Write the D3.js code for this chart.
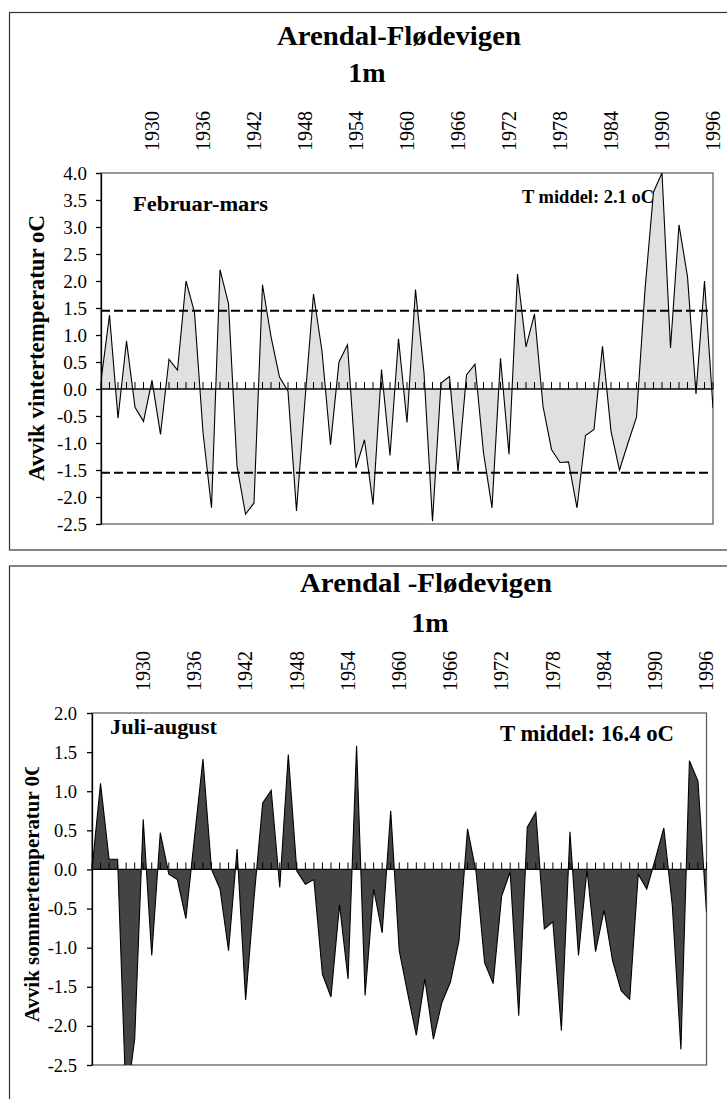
<!DOCTYPE html>
<html><head><meta charset="utf-8">
<script src="https://cdn.jsdelivr.net/npm/d3@7"></script>
<style>
body{margin:0;background:#fff}
svg{display:block}
text{font-family:'Liberation Serif','Times New Roman',serif;fill:#000}
</style>
</head><body>
<svg id="c" width="727" height="1099"></svg>
<script>
// ---------- DATA ----------
const years = [1924,1925,1926,1927,1928,1929,1930,1931,1932,1933,1934,1935,1936,1937,1938,1939,1940,1941,1942,1943,1944,1945,1946,1947,1948,1949,1950,1951,1952,1953,1954,1955,1956,1957,1958,1959,1960,1961,1962,1963,1964,1965,1966,1967,1968,1969,1970,1971,1972,1973,1974,1975,1976,1977,1978,1979,1980,1981,1982,1983,1984,1985,1986,1987,1988,1989,1990,1991,1992,1993,1994,1995,1996];
const yearTickLabels = ["1930","1936","1942","1948","1954","1960","1966","1972","1978","1984","1990","1996"];

// Avvik vintertemperatur (februar-mars)
const winterDev = [0.15,1.37,-0.54,0.89,-0.34,-0.60,0.16,-0.84,0.55,0.35,2.00,1.42,-0.80,-2.20,2.21,1.58,-1.43,-2.32,-2.11,1.93,0.97,0.22,-0.04,-2.26,-0.20,1.76,0.70,-1.03,0.50,0.82,-1.46,-0.94,-2.14,0.36,-1.23,0.93,-0.62,1.84,0.30,-2.45,0.11,0.23,-1.52,0.26,0.46,-1.18,-2.20,0.57,-1.21,2.13,0.78,1.39,-0.32,-1.12,-1.36,-1.35,-2.20,-0.86,-0.75,0.79,-0.78,-1.50,-1.00,-0.52,1.84,3.65,4.00,0.76,3.04,2.08,-0.09,2.00,-0.35];
const winterYTicks = [4.0,3.5,3.0,2.5,2.0,1.5,1.0,0.5,0.0,-0.5,-1.0,-1.5,-2.0,-2.5];
const winterLimits = [1.45,-1.55];

// Avvik sommertemperatur (juli-august)
const summerDev = [0.00,1.10,0.13,0.13,-3.00,-2.17,0.64,-1.10,0.47,-0.06,-0.13,-0.63,0.40,1.41,0.00,-0.25,-1.04,0.26,-1.67,-0.35,0.85,1.01,-0.23,1.47,-0.02,-0.19,-0.13,-1.34,-1.63,-0.45,-1.40,1.58,-1.61,-0.25,-0.81,0.75,-1.04,-1.59,-2.12,-1.40,-2.17,-1.70,-1.44,-0.91,0.52,-0.03,-1.19,-1.46,-0.34,-0.03,-1.87,0.54,0.73,-0.76,-0.67,-2.06,0.48,-1.10,0.00,-1.05,-0.52,-1.17,-1.55,-1.66,-0.06,-0.25,0.13,0.53,-0.47,-2.30,1.39,1.13,-0.55];
const summerYTicks = [2.0,1.5,1.0,0.5,0.0,-0.5,-1.0,-1.5,-2.0,-2.5];

// ---------- DRAW ----------
const svg = d3.select('#c');
const defs = svg.append('defs');

function drawPanel(o){
  const g = svg.append('g');
  // outer chart frame
  g.append('rect').attr('x',9.5).attr('y',o.frameTop).attr('width',800).attr('height',o.frameH)
    .attr('fill','#fff').attr('stroke','#333').attr('stroke-width',1.2);

  const x = d3.scalePoint().domain(years).range([o.left,o.right]);
  const y = d3.scaleLinear().domain([o.min,o.max]).range([o.bottom,o.top]);

  // plot area
  g.append('rect').attr('x',o.left).attr('y',o.top).attr('width',o.right-o.left).attr('height',o.bottom-o.top)
    .attr('fill','#fff').attr('stroke','#555').attr('stroke-width',1.2);

  defs.append('clipPath').attr('id',o.id+'clip').append('rect')
    .attr('x',o.left).attr('y',o.top).attr('width',o.right-o.left).attr('height',o.bottom-o.top);

  const pts = years.map((yr,i)=>({yr, v:o.values[i]}));
  const area = d3.area().x(d=>x(d.yr)).y0(y(0)).y1(d=>y(d.v));
  const line = d3.line().x(d=>x(d.yr)).y(d=>y(d.v));
  const pg = g.append('g').attr('clip-path',`url(#${o.id}clip)`);
  pg.append('path').datum(pts).attr('d',area).attr('fill',o.fill).attr('stroke','none');
  pg.append('path').datum(pts).attr('d',line).attr('fill','none').attr('stroke','#000').attr('stroke-width',1.1).attr('stroke-linejoin','miter');

  // limit lines
  if(o.limits){
    g.selectAll('.lim').data(o.limits).join('line')
      .attr('x1',o.left).attr('x2',o.right-2).attr('y1',d=>y(d)).attr('y2',d=>y(d))
      .attr('stroke','#000').attr('stroke-width',2).attr('stroke-dasharray','9,4');
  }

  // category axis at zero
  g.append('line').attr('x1',o.left).attr('x2',o.right).attr('y1',y(0)).attr('y2',y(0))
    .attr('stroke','#000').attr('stroke-width',1.3);
  g.selectAll('.ct').data(years).join('line')
    .attr('x1',d=>x(d)).attr('x2',d=>x(d)).attr('y1',y(0)).attr('y2',y(0)-7)
    .attr('stroke','#000').attr('stroke-width',1);

  // value axis
  const ax = d3.axisLeft(y).tickValues(o.ticks).tickSize(5).tickSizeOuter(0).tickPadding(o.pad)
    .tickFormat(d=>d.toFixed(1));
  const ag = g.append('g').attr('transform',`translate(${o.left},0)`).call(ax);
  ag.attr('font-family',null).attr('font-size',null);
  ag.selectAll('path,line').attr('stroke','#000').attr('stroke-width',1.3);
  ag.selectAll('text').style('font-size',o.yFont+'px').attr('dy','0.33em');

  // year labels (top)
  g.selectAll('.yl').data(yearTickLabels).join('text')
    .attr('transform',d=>`translate(${x(+d)},${o.labelBottom}) rotate(-90)`)
    .attr('text-anchor','start').attr('dy','0.34em')
    .style('font-size','20px').text(d=>d);

  // titles
  g.append('text').attr('x',o.titleX).attr('y',o.titleY).attr('text-anchor','middle')
    .attr('textLength',o.titleLen).attr('lengthAdjust','spacingAndGlyphs')
    .style('font-size','27px').style('font-weight','bold').text(o.title);
  g.append('text').attr('x',o.subX).attr('y',o.subY).attr('text-anchor','middle')
    .style('font-size','28px').style('font-weight','bold').text('1m');

  // inner labels
  g.append('text').attr('x',o.seasonX).attr('y',o.seasonY)
    .attr('textLength',o.seasonLen).attr('lengthAdjust','spacingAndGlyphs')
    .style('font-size',o.seasonFont+'px').style('font-weight','bold').text(o.season);
  g.append('text').attr('x',o.meanX).attr('y',o.meanY)
    .attr('textLength',o.meanLen).attr('lengthAdjust','spacingAndGlyphs')
    .style('font-size',o.meanFont+'px').style('font-weight','bold').text(o.mean);

  // y title
  let yt = g;
  if(o.yTitleClip){
    defs.append('clipPath').attr('id',o.id+'yt').append('rect')
      .attr('x',0).attr('y',o.yTitleClip).attr('width',80).attr('height',500);
    yt = g.append('g').attr('clip-path',`url(#${o.id}yt)`);
  }
  yt.append('text').attr('transform',`translate(${o.yTitleX},${o.yTitleY}) rotate(-90)`)
    .attr('text-anchor',o.yTitleAnchor).attr('dy','0.35em')
    .attr('textLength',o.yTitleLen).attr('lengthAdjust','spacingAndGlyphs')
    .style('font-size',o.yTitleFont+'px').style('font-weight','bold').text(o.yTitle);
}

drawPanel({
  id:'w', frameTop:12.5, frameH:537.5,
  left:101, right:713, top:173, bottom:524, min:-2.5, max:4.0,
  values:winterDev, ticks:winterYTicks, limits:winterLimits, fill:'#e0e0e0',
  pad:9, yFont:19, labelBottom:151,
  title:'Arendal-Flødevigen', titleX:399, titleY:45, titleLen:244,
  subX:367, subY:82,
  season:'Februar-mars', seasonX:133, seasonY:211, seasonLen:135, seasonFont:20,
  mean:'T middel: 2.1 oC', meanX:522, meanY:203, meanLen:132, meanFont:18,
  yTitle:'Avvik vintertemperatur oC', yTitleX:36, yTitleY:348, yTitleAnchor:'middle', yTitleLen:266, yTitleFont:23
});

drawPanel({
  id:'s', frameTop:566, frameH:600,
  left:92, right:706.5, top:713, bottom:1065, min:-2.5, max:2.0,
  values:summerDev, ticks:summerYTicks, limits:null, fill:'#444444',
  pad:10, yFont:18.5, labelBottom:691,
  title:'Arendal -Flødevigen', titleX:426, titleY:592, titleLen:252,
  subX:430, subY:632,
  season:'Juli-august', seasonX:110, seasonY:734, seasonLen:107, seasonFont:21,
  mean:'T middel: 16.4 oC', meanX:500, meanY:741, meanLen:174, meanFont:23,
  yTitle:'Avvik sommertemperatur 0C', yTitleX:32, yTitleY:1022, yTitleAnchor:'start', yTitleLen:261, yTitleFont:20.5, yTitleClip:767
});
</script>
</body></html>
